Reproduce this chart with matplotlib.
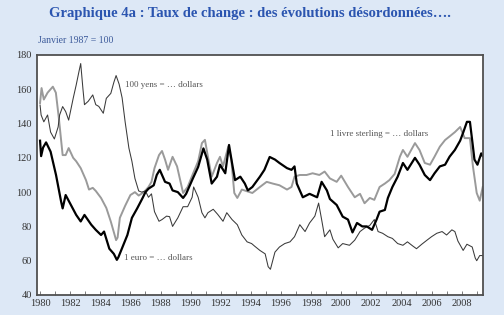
import matplotlib.pyplot as plt
import numpy as np

plt.rcParams['font.family'] = ['Liberation Serif', 'DejaVu Serif']

# 1 euro = ... dollars (thick black)
euro_t = [1980.0, 1980.07, 1980.2, 1980.4, 1980.7, 1981.06, 1981.4, 1981.5, 1981.7, 1982.05,
          1982.4, 1982.7, 1982.95, 1983.4, 1983.7, 1984.05, 1984.25, 1984.6, 1984.9, 1985.1,
          1985.2, 1985.45, 1985.8, 1986.1, 1986.45, 1986.8, 1987.0, 1987.2, 1987.55, 1987.75,
          1987.95, 1988.3, 1988.6, 1988.8, 1989.15, 1989.5, 1989.7, 1990.15, 1990.5, 1990.85,
          1991.1, 1991.4, 1991.75, 1991.95, 1992.3, 1992.55, 1992.75, 1992.95, 1993.3, 1993.6,
          1993.8, 1994.1, 1994.6, 1994.9, 1995.25, 1995.6, 1995.9, 1996.4, 1996.7, 1996.9,
          1997.05, 1997.45, 1997.9, 1998.4, 1998.7, 1999.05, 1999.25, 1999.7, 2000.1, 2000.45,
          2000.75, 2001.05, 2001.4, 2001.7, 2002.05, 2002.35, 2002.55, 2002.9, 2003.1, 2003.4,
          2003.75, 2004.1, 2004.4, 2004.9, 2005.2, 2005.55, 2005.9, 2006.2, 2006.55, 2006.9,
          2007.2, 2007.55, 2007.9, 2008.1, 2008.35, 2008.55, 2008.75, 2008.85, 2009.05, 2009.3,
          2009.4]
euro_v = [130, 121, 126, 129, 123.6, 110, 94.4, 90.5, 98.3, 92.5,
          86.7, 82.9, 86.7, 81, 78, 75, 77, 67, 64, 60.5,
          62, 67.4, 75, 85, 90.5, 96.4, 100, 102, 104, 110,
          113, 106, 105, 101, 100, 96.6, 99, 108, 114.7, 125.5,
          119, 105, 109, 116, 111, 127.5, 117, 107, 109, 105,
          101, 103, 109, 113, 120.5, 119, 117, 114, 113, 115,
          105, 97, 99, 97, 106, 101, 96, 92.5, 85.7, 84,
          76.5, 82, 80, 80, 78, 84, 88.6, 89.6, 96.6, 103,
          109, 117, 113, 120, 116, 110, 107, 111, 115, 116,
          120.7, 124.6, 130, 134.7, 141, 141, 126.5, 119, 116, 122.6,
          121]

# 1 livre sterling = ... dollars (grey)
gbp_t = [1980.0, 1980.1, 1980.25, 1980.5, 1980.85, 1981.05, 1981.25, 1981.5, 1981.7, 1981.9,
         1982.2, 1982.4, 1982.7, 1983.05, 1983.25, 1983.5, 1983.7, 1984.05, 1984.4, 1984.7,
         1985.05, 1985.15, 1985.3, 1985.65, 1986.0, 1986.3, 1986.55, 1986.9, 1987.2, 1987.4,
         1987.6, 1987.9, 1988.1, 1988.3, 1988.5, 1988.8, 1989.1, 1989.5, 1989.8, 1990.15,
         1990.5, 1990.75, 1990.95, 1991.15, 1991.4, 1991.75, 1991.95, 1992.15, 1992.5, 1992.7,
         1992.9, 1993.1, 1993.4, 1993.75, 1994.1, 1994.6, 1995.05, 1995.45, 1995.9, 1996.4,
         1996.7, 1996.9, 1997.25, 1997.7, 1998.1, 1998.55, 1998.9, 1999.25, 1999.7, 2000.0,
         2000.45, 2000.9, 2001.25, 2001.55, 2001.9, 2002.2, 2002.55, 2002.9, 2003.2, 2003.55,
         2003.9, 2004.1, 2004.4, 2004.9, 2005.2, 2005.55, 2005.9, 2006.2, 2006.55, 2006.9,
         2007.2, 2007.55, 2007.9, 2008.2, 2008.55, 2008.75, 2009.0, 2009.2, 2009.4]
gbp_v = [152, 160.7, 154, 158, 161.5, 158, 143, 121.6, 121.6, 125.7,
         120, 118, 114, 107, 101.5, 102.5, 100.7, 96.6, 90.8, 82.8,
         72, 73.5, 85, 92, 98.3, 100, 98, 100, 103, 106,
         114, 121.6, 124, 119, 113, 120.6, 115, 99.5, 103, 110.6,
         118, 128.6, 130.5, 120.6, 109, 117, 120.6, 115, 126.5, 119,
         99.5, 96.6, 101.5, 100.5, 99.5, 103, 106, 105, 104, 101.5,
         103, 109, 110, 110, 111, 110, 112, 108, 106, 109.6,
         103, 97, 99, 93.5, 96.6, 95.5, 103, 105, 107, 110.6,
         120.7, 124.6, 120.6, 128.6, 124.6, 117, 116, 120.7, 126.5, 130.4,
         132.5, 135, 138, 131.5, 131.5, 115, 99.5, 95, 103]

# 100 yens = ... dollars (thin dark line)
yen_t = [1980.0, 1980.07, 1980.25, 1980.5, 1980.7, 1980.95, 1981.2, 1981.3, 1981.5, 1981.7,
         1981.9, 1982.2, 1982.4, 1982.6, 1982.7, 1982.85, 1982.95, 1983.2, 1983.5, 1983.7,
         1983.9, 1984.2, 1984.4, 1984.7, 1984.9, 1985.05, 1985.25, 1985.45, 1985.65, 1985.9,
         1986.1, 1986.3, 1986.55, 1986.75, 1987.0, 1987.2, 1987.4, 1987.6, 1987.9, 1988.1,
         1988.4, 1988.6, 1988.8, 1989.15, 1989.5, 1989.8, 1990.1, 1990.2, 1990.5, 1990.75,
         1990.95, 1991.15, 1991.5, 1991.8, 1992.15, 1992.4, 1992.75, 1993.1, 1993.4, 1993.75,
         1994.05, 1994.25, 1994.6, 1994.95, 1995.15, 1995.3, 1995.6, 1995.9, 1996.25, 1996.6,
         1996.9, 1997.25, 1997.6, 1997.9, 1998.25, 1998.5, 1998.7, 1998.9, 1999.25, 1999.45,
         1999.8, 2000.1, 2000.55, 2000.9, 2001.25, 2001.55, 2001.9, 2002.2, 2002.45, 2002.75,
         2003.1, 2003.4, 2003.75, 2004.1, 2004.4, 2004.75, 2005.0, 2005.35, 2005.7, 2006.0,
         2006.35, 2006.7, 2007.0, 2007.35, 2007.55, 2007.75, 2008.1, 2008.35, 2008.7, 2008.9,
         2009.0, 2009.2, 2009.4]
yen_v = [150.8, 145, 141, 145, 135, 131, 138, 145, 149.9, 147,
         142, 154.7, 162.5, 171, 175, 160, 151, 153, 156.7, 151,
         150, 146, 154.7, 157.6, 164, 168, 163, 155, 141, 125.7,
         118, 108, 100.7, 100, 100.7, 97, 99, 88.6, 83, 84,
         86, 85.7, 80, 85, 91.5, 91.5, 97, 103, 97, 88,
         85, 88, 90, 87, 83, 88, 84, 81, 75, 71,
         70, 68.5, 66, 64, 56.5, 55, 65, 68, 70, 71,
         74, 81, 77, 82, 86, 93.6, 84, 74, 78, 72.5,
         67.5, 70, 69, 72, 77, 79, 80.6, 84, 77, 76,
         74, 73, 70, 69, 71, 68.6, 67, 69.6, 72, 74,
         76, 77, 75, 78, 77, 71.5, 66, 69.6, 68, 61.6,
         60, 63, 63]

years = np.arange(1980, 2010)
year_labels = [str(y) for y in range(1980, 2010, 2)]

bg = '#dde8f6'
fig = plt.figure(figsize=(5.04, 3.15), dpi=100, facecolor=bg)
ax = fig.add_axes([0.0744, 0.0635, 0.884, 0.762])
ax.set_facecolor('white')

ax.plot(gbp_t, gbp_v, color='#9a9a9a', lw=1.4)
ax.plot(yen_t, yen_v, color='#3a3a3a', lw=0.75)
ax.plot(euro_t, euro_v, color='black', lw=1.6)

ax.set_xlim(1979.83, 2009.42)
ax.set_ylim(40, 180)
ax.set_yticks(range(40, 181, 20))
ax.set_xticks(years, minor=True)
ax.set_xticks(range(1980, 2010, 2))
ax.set_xticklabels(year_labels)
ax.tick_params(axis='x', which='both', direction='in', length=3, width=0.6,
               color='#666666', labelsize=7.5, labelcolor='#333333', pad=3)
ax.tick_params(axis='y', length=0, labelsize=7.5, labelcolor='#333333', pad=4)
for s in ax.spines.values():
    s.set_color('#505050')
    s.set_linewidth(1.3)

ax.text(1985.64, 162.5, '100 yens = … dollars', fontsize=6.5, color='#555555', va='center')
ax.text(1985.57, 61.6, '1 euro = … dollars', fontsize=6.5, color='#555555', va='center')
ax.text(1999.25, 134, '1 livre sterling = … dollars', fontsize=6.5, color='#555555', va='center')

fig.text(0.495, 0.957, 'Graphique 4a : Taux de change : des évolutions désordonnées….',
         fontsize=10.5, fontweight='bold', color='#2b55b0', ha='center', va='center')
fig.text(0.075, 0.873, 'Janvier 1987 = 100', fontsize=7, color='#3c5a9a', va='center')

fig.savefig('out.png', dpi=100, facecolor=bg)
